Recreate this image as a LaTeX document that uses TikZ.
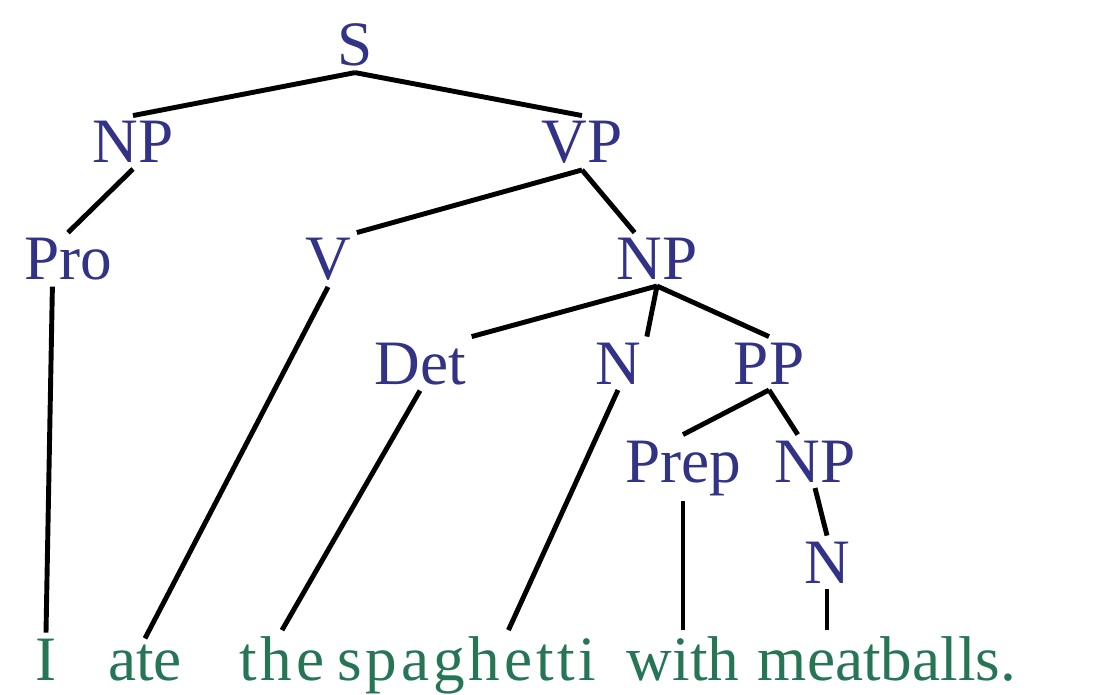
\documentclass[tikz,border=0pt]{standalone}
\usepackage{fontspec}
\setmainfont{Liberation Serif}
\newfontfamily\spacedfont[LetterSpace=6]{Liberation Serif}
\definecolor{catblue}{RGB}{50,50,135}
\definecolor{wordgreen}{RGB}{38,118,85}
\tikzset{
  line cap=round,
  line join=round,
  every picture/.style={line width=2.8pt},
  cat/.style={text=catblue, inner sep=0pt, outer sep=0.12cm, anchor=base},
  word/.style={text=wordgreen, inner sep=0pt, outer sep=0.12cm, anchor=base},
  branch/.style={black, line width=2.8pt}
}
\begin{document}
\begin{tikzpicture}[x=0.02cm, y=-0.02cm, font=\fontsize{36}{42}\selectfont]
  \useasboundingbox (0,0) rectangle (1094,695);

  % categories
  \node[cat] (S) at (355,66) {S};
  \node[cat] (NPa) at (133,163) {NP};
  \node[cat] (VP) at (582,163) {VP};
  \node[cat] (Pro) at (68,280) {Pro};
  \node[cat] (V) at (328,280) {V};
  \node[cat] (NPb) at (657,280) {NP};
  \node[cat] (Det) at (420,384) {Det};
  \node[cat] (Na) at (618,384) {N};
  \node[cat] (PP) at (769,384) {PP};
  \node[cat] (Prep) at (683,482) {Prep};
  \node[cat] (NPc) at (815,482) {NP};
  \node[cat] (Nb) at (827,583) {N};

  % words
  \node[word] (I) at (46,680) {I};
  \node[word] (ate) at (145,680) {ate};
  \node[word] (the) at (282,680) {\spacedfont the};
  \node[word] (spaghetti) at (467,680) {\spacedfont spaghetti};
  \node[word] (with) at (683,680) {with};
  \node[word] (meatballs) at (887,680) {meatballs.};

  \draw[branch] (S.south) -- (NPa.north);
  \draw[branch] (S.south) -- (VP.north);
  \draw[branch] (NPa.south) -- (Pro.north);
  \draw[branch] (VP.south) -- (V.north east);
  \draw[branch] (VP.south) -- (NPb);
  \draw[branch] (NPb.south) -- (Det.north east);
  \draw[branch] (NPb.south) -- (Na.north east);
  \draw[branch] (NPb.south) -- (PP.north);
  \draw[branch] (PP.south) -- (Prep.north);
  \draw[branch] (PP.south) -- (NPc);
  \draw[branch] (NPc.south) -- (Nb.north);

  \draw[branch] (Pro.-120) -- (I.north);
  \draw[branch] (V.south) -- (ate.north);
  \draw[branch] (Det.south) -- (the.north);
  \draw[branch] (Na.south) -- (spaghetti.40);
  \draw[branch] (Prep.south) -- (Prep.south |- with.north);
  \draw[branch] (Nb.south) -- (Nb.south |- meatballs.north);
\end{tikzpicture}
\end{document}
